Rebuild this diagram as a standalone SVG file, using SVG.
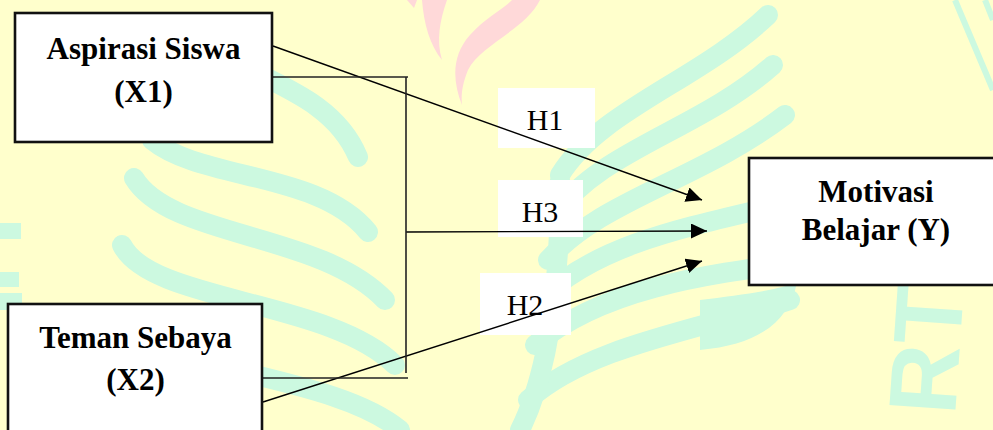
<svg xmlns="http://www.w3.org/2000/svg" width="993" height="430" viewBox="0 0 993 430">
<style>
.bg{fill:#FFFFCC}
.leaf{fill:none;stroke:#CCF9E0;stroke-width:20;stroke-linecap:round}
.tl{fill:#CCF9E0}
.pink{fill:#FFD9D9}
.box{fill:#FFFFFF;stroke:#111111;stroke-width:2.6}
.bt{font-family:"Liberation Serif","Times New Roman",serif;font-weight:bold;font-size:31px;fill:#000;text-anchor:middle}
.lbl{fill:#FFFFFF}
.lt{font-family:"Liberation Serif","Times New Roman",serif;font-size:30px;fill:#000;text-anchor:middle}
.ln{fill:none;stroke:#000;stroke-width:1.4}
.br{fill:none;stroke:#222;stroke-width:1.6}
</style>
<defs>
<marker id="ah" markerUnits="userSpaceOnUse" markerWidth="17" markerHeight="15" refX="16" refY="7.5" orient="auto">
<path d="M0,0 L16,7.5 L0,15 z" fill="#000"/>
</marker>
</defs>
<g id="background">
<rect class="bg" x="0" y="0" width="993" height="430"/>
<path class="leaf" d="M200,40 C250,80 330,90 358,157"/>
<path class="leaf" d="M152,140 C200,180 320,172 368,232"/>
<path class="leaf" d="M134,178 C170,238 320,232 385,300"/>
<path class="leaf" d="M122,245 C150,302 330,300 395,365"/>
<path class="leaf" d="M118,318 C150,372 330,372 400,430"/>
<path class="leaf" d="M560,175 C600,110 700,80 768,15"/>
<path class="leaf" d="M555,215 C600,150 700,130 773,65"/>
<path class="leaf" d="M548,260 C600,200 700,180 785,115"/>
<path class="leaf" d="M540,300 C600,240 700,225 800,200"/>
<path class="leaf" d="M535,345 C600,290 700,275 800,262"/>
<path class="leaf" d="M528,400 C590,345 700,330 790,300"/>
<path class="leaf" d="M520,430 C545,380 560,300 560,180"/>
<path class="tl" d="M700,300 C740,295 780,290 797,282 C790,320 760,345 700,350 Z"/>
<rect class="tl" x="0" y="223" width="21" height="16"/>
<rect class="tl" x="0" y="272" width="19" height="15"/>
<rect class="tl" x="0" y="293" width="22" height="17"/>
<path d="M955,0 L993,90" stroke="#CCF9E0" stroke-width="6" fill="none"/>
<path d="M985,0 L993,20" stroke="#CCF9E0" stroke-width="6" fill="none"/>
<text x="0" y="0" transform="translate(955,416) rotate(-86)" font-family="'Liberation Sans',Arial,sans-serif" font-weight="bold" font-size="96" fill="#CCF9E0">RT</text>
<path class="pink" d="M422,0 L447,0 C440,20 436,40 442,60 C430,45 424,25 422,0 Z"/>
<path class="pink" d="M540,0 C525,30 480,45 468,70 C462,85 461,95 462,105 C452,80 452,55 470,35 C485,18 505,8 512,0 Z"/>
<path class="pink" d="M407,0 L417,0 L414,8 Z"/>
</g>
<g id="labels">
<rect class="lbl" x="498" y="88" width="97" height="60"/>
<text class="lt" x="545" y="130">H1</text>
<rect class="lbl" x="498" y="180" width="85" height="57"/>
<text class="lt" x="540" y="222">H3</text>
<rect class="lbl" x="480" y="273" width="91" height="62"/>
<text class="lt" x="525" y="315">H2</text>
</g>
<g id="connectors">
<path class="ln" d="M273,46 L702,200" marker-end="url(#ah)"/>
<path class="ln" d="M406,232 L707,231" marker-end="url(#ah)"/>
<path class="ln" d="M263,402 L702,261" marker-end="url(#ah)"/>
<path class="br" d="M273,77 L408,77"/>
<path class="br" d="M406,77 L406,373"/>
<path class="br" d="M263,378 L408,378"/>
</g>
<g id="node-x1">
<rect class="box" x="15" y="13" width="257" height="129"/>
<text class="bt" x="143.5" y="59">Aspirasi Siswa</text>
<text class="bt" x="143.5" y="102">(X1)</text>
</g>
<g id="node-x2">
<rect class="box" x="8" y="304" width="254" height="140"/>
<text class="bt" x="135.5" y="348">Teman Sebaya</text>
<text class="bt" x="135.5" y="390">(X2)</text>
</g>
<g id="node-y">
<rect class="box" x="749" y="158" width="262" height="127"/>
<text class="bt" x="876" y="202">Motivasi</text>
<text class="bt" x="876" y="240">Belajar (Y)</text>
</g>
</svg>
